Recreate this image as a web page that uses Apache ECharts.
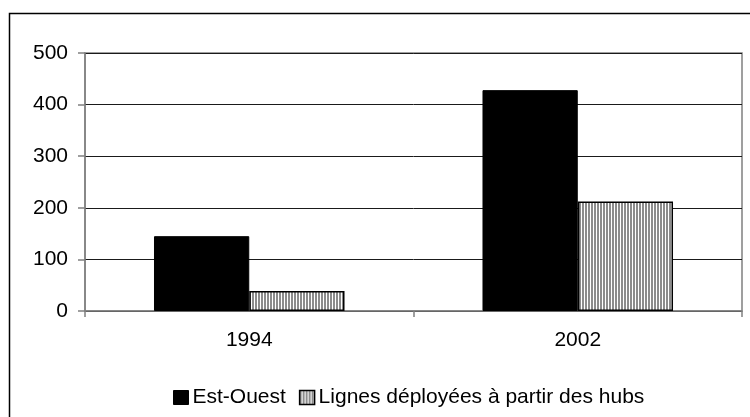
<!DOCTYPE html>
<html>
<head>
<meta charset="utf-8">
<script src="https://cdn.jsdelivr.net/npm/echarts@6/dist/echarts.min.js"></script>
<style>
  html, body { margin: 0; padding: 0; background: #fff; }
  #chart { width: 750px; height: 417px; }
</style>
</head>
<body>
<div id="chart"></div>
<script>
// données
var years = ['1994', '2002']
var estOuest = [145, 428]
var hubs = [39, 212]
var yTicks = [0, 100, 200, 300, 400, 500]

// motif rayé vertical pour la 2e série
function stripes() {
    var c = document.createElement('canvas')
    c.width = 3
    c.height = 4
    var ctx = c.getContext('2d')
    ctx.fillStyle = '#fff'
    ctx.fillRect(0, 0, 3, 4)
    ctx.fillStyle = '#8c8c8c'
    ctx.fillRect(0, 0, 2, 4)
    return c
}

var font = 'Liberation Sans, Arial, sans-serif'
var myChart = echarts.init(document.getElementById('chart'))
var option = {
    animation: false,
    textStyle: { fontFamily: font },
    graphic: [{
        type: 'rect',
        shape: { x: 9.5, y: 13.5, width: 800, height: 500 },
        style: { fill: 'none', stroke: '#000', lineWidth: 1.5 },
        silent: true
    }],
    grid: {
        left: 85, right: 8, top: 53, bottom: 106,
        show: true, borderColor: '#808080', borderWidth: 1.5,
        containLabel: false
    },
    legend: {
        left: 173,
        top: 387,
        padding: 0,
        icon: 'rect',
        itemWidth: 15,
        itemHeight: 14,
        itemGap: 13,
        textStyle: { fontSize: 21, color: '#000', fontFamily: font, padding: [0, 0, 0, -1] },
        data: [
            { name: 'Est-Ouest', itemStyle: { color: '#000', borderColor: '#000', borderWidth: 1 } },
            { name: 'Lignes déployées à partir des hubs', itemStyle: { borderColor: '#000', borderWidth: 1.5 } }
        ]
    },
    xAxis: {
        type: 'category',
        data: years,
        axisLine: { lineStyle: { color: '#808080', width: 1.5 } },
        axisTick: { show: true, length: 6, lineStyle: { color: '#808080', width: 1.5 } },
        axisLabel: { fontSize: 21, color: '#000', margin: 19 },
        splitLine: { show: false }
    },
    yAxis: {
        type: 'value',
        min: yTicks[0],
        max: yTicks[yTicks.length - 1],
        interval: 100,
        axisLine: { show: true, lineStyle: { color: '#808080', width: 1.5 } },
        axisTick: { show: true, length: 7, lineStyle: { color: '#808080', width: 1.5 } },
        axisLabel: { fontSize: 21, color: '#000', margin: 17 },
        splitLine: { show: true, lineStyle: { color: '#1a1a1a', width: 1 } }
    },
    series: [{
        name: 'Est-Ouest',
        type: 'bar',
        data: estOuest,
        barGap: '0%',
        barCategoryGap: '42%',
        itemStyle: { color: '#000', borderColor: '#000', borderWidth: 1 }
    }, {
        name: 'Lignes déployées à partir des hubs',
        type: 'bar',
        data: hubs,
        itemStyle: {
            color: { image: stripes(), repeat: 'repeat' },
            borderColor: '#000',
            borderWidth: 1.5
        }
    }]
}
myChart.setOption(option)
</script>
</body>
</html>
